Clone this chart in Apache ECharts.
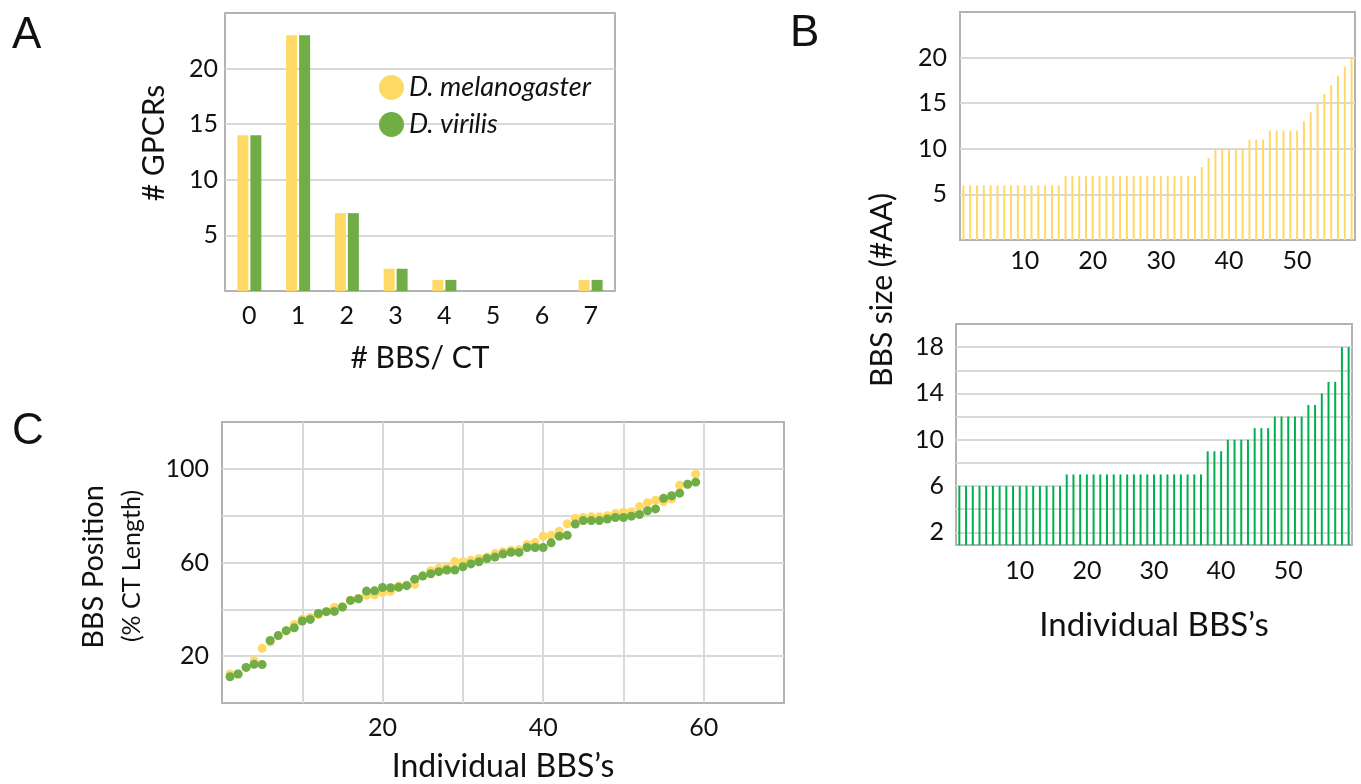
<!DOCTYPE html>
<html><head><meta charset="utf-8">
<script src="https://cdn.jsdelivr.net/npm/echarts@6/dist/echarts.min.js"></script>
<style>html,body{margin:0;padding:0;background:#fff}#c{width:1361px;height:784px}</style>
</head><body><div id="c"></div><script>
// ---- Panel A: number of BBS per CT ----
const countCategories = ['0','1','2','3','4','5','6','7'];
const countMel = [14, 23, 7, 2, 1, 0, 0, 1];
const countVir = [14, 23, 7, 2, 1, 0, 0, 1];
const countTicks = [5, 10, 15, 20];

// ---- Panel B: BBS size (#AA), sorted ----
const sizeMel = [6,6,6,6,6,6,6,6,6,6,6,6,6,6,6,
  7,7,7,7,7,7,7,7,7,7,7,7,7,7,7,7,7,7,7,7,
  8,9,10,10,10,10,10,11,11,11,12,12,12,12,12,
  13,14,15,16,17,18,19,20];
const sizeVir = [6,6,6,6,6,6,6,6,6,6,6,6,6,6,6,6,
  7,7,7,7,7,7,7,7,7,7,7,7,7,7,7,7,7,7,7,7,7,
  9,9,9,10,10,10,10,11,11,11,12,12,12,12,12,
  13,13,14,15,15,18,18];
const sizeTicksTop = [5, 10, 15, 20];
const sizeGridBottom = [2, 4, 6, 8, 10, 12, 14, 16, 18];
const sizeTicksBottom = [2, 6, 10, 14, 18];
const bbsTickLabels = [10, 20, 30, 40, 50];

// ---- Panel C: BBS position (% CT length), sorted ----
const posMel = [12.4,12.4,15.2,18.0,23.4,26.0,28.8,30.8,33.5,35.8,
  36.5,37.7,39.0,40.8,41.0,43.8,44.5,46.0,46.2,47.2,
  47.6,50.0,50.4,50.7,54.3,56.5,57.5,58.1,60.4,60.3,
  61.0,61.7,62.4,63.8,64.6,65.2,65.5,67.7,68.5,71.2,
  71.6,73.3,76.5,78.9,79.2,79.5,79.5,80.0,80.9,81.5,
  81.7,83.9,85.5,86.6,86.0,87.1,93.0,93.4,97.7];
const posVir = [11.2,12.4,15.2,16.5,16.4,26.7,28.8,30.9,32.1,35.0,
  35.7,38.2,39.0,39.1,41.0,43.8,44.5,47.8,47.9,49.3,
  49.2,49.4,50.1,52.9,54.2,55.2,56.1,56.8,56.8,58.2,
  59.4,60.3,61.7,62.3,63.6,64.4,64.3,66.4,66.4,66.4,
  68.4,71.2,71.6,76.4,77.9,77.9,77.9,78.6,79.2,79.2,
  79.8,80.5,82.1,82.9,87.4,88.5,89.6,93.4,94.3];
const posXTicks = [20, 40, 60];
const posYTicks = [20, 60, 100];

const YELLOW = '#FFD966', GREEN = '#70AD47', BRIGHTGREEN = '#00B050';
const FRAME = '#b3b3b3', GRIDC = '#d9d9d9', TXT = '#111';
const FONT = 'Lato, "Open Sans", sans-serif';

const catsTop = sizeMel.map((_, i) => String(i + 1));
const catsBot = sizeVir.map((_, i) => String(i + 1));
const labelFn = (idx) => bbsTickLabels.indexOf(idx + 1) >= 0;

const chart = echarts.init(document.getElementById('c'), null, {renderer: 'canvas'});
const gridStyle = {show: true, borderColor: FRAME, borderWidth: 2, backgroundColor: '#fff'};
const axLabel = {color: TXT, fontSize: 25, fontFamily: FONT};

chart.setOption({
  animation: false,
  textStyle: {fontFamily: FONT},
  grid: [
    Object.assign({left: 225, top: 13, width: 390, height: 278}, gridStyle),
    Object.assign({left: 960, top: 12, width: 395, height: 228}, gridStyle),
    Object.assign({left: 956, top: 324, width: 396, height: 221}, gridStyle),
    Object.assign({left: 222, top: 422, width: 562, height: 284}, gridStyle)
  ],
  legend: {
    data: ['D. melanogaster', 'D. virilis'],
    orient: 'vertical', left: 374, top: 69,
    icon: 'circle', itemWidth: 25, itemHeight: 25, itemGap: 10,
    textStyle: {fontSize: 27, fontStyle: 'italic', color: TXT, fontFamily: FONT}
  },
  xAxis: [
    {gridIndex: 0, type: 'category', data: countCategories,
      axisLine: {show: false}, axisTick: {show: false},
      axisLabel: Object.assign({margin: 12}, axLabel),
      name: '# BBS/ CT', nameLocation: 'middle', nameGap: 52,
      nameTextStyle: {fontSize: 30, color: TXT, fontFamily: FONT}},
    {gridIndex: 1, type: 'category', data: catsTop,
      axisLine: {show: false}, axisTick: {show: false},
      axisLabel: Object.assign({interval: labelFn, margin: 8}, axLabel)},
    {gridIndex: 2, type: 'category', data: catsBot,
      axisLine: {show: false}, axisTick: {show: false},
      axisLabel: Object.assign({interval: labelFn, margin: 13}, axLabel),
      name: "Individual BBS’s", nameLocation: 'middle', nameGap: 64,
      nameTextStyle: {fontSize: 33, color: TXT, fontFamily: FONT}},
    {gridIndex: 3, type: 'value', min: 0, max: 70, interval: 10,
      axisLine: {show: false}, axisTick: {show: false},
      splitLine: {show: true, showMinLine: false, showMaxLine: false, lineStyle: {color: GRIDC, width: 2}},
      axisLabel: Object.assign({margin: 12, formatter: v => posXTicks.indexOf(v) >= 0 ? String(v) : ''}, axLabel),
      name: "Individual BBS’s", nameLocation: 'middle', nameGap: 48,
      nameTextStyle: {fontSize: 32, color: TXT, fontFamily: FONT}}
  ],
  yAxis: [
    {gridIndex: 0, type: 'value', min: 0, max: 25, interval: 5,
      axisLine: {show: false}, axisTick: {show: false},
      splitLine: {show: true, showMinLine: false, showMaxLine: false, lineStyle: {color: GRIDC, width: 2}},
      axisLabel: Object.assign({margin: 7, formatter: v => countTicks.indexOf(v) >= 0 ? String(v) : ''}, axLabel)},
    {gridIndex: 1, type: 'value', min: 0, max: 25, interval: 5,
      axisLine: {show: false}, axisTick: {show: false},
      splitLine: {show: true, showMinLine: false, showMaxLine: false, lineStyle: {color: GRIDC, width: 2}},
      axisLabel: Object.assign({margin: 13, formatter: v => sizeTicksTop.indexOf(v) >= 0 ? String(v) : ''}, axLabel)},
    {gridIndex: 2, type: 'value', min: 0.9, max: 20,
      axisLine: {show: false},
      axisTick: {show: false, customValues: sizeGridBottom},
      splitLine: {show: true, lineStyle: {color: GRIDC, width: 2}},
      axisLabel: Object.assign({margin: 12, customValues: sizeTicksBottom}, axLabel)},
    {gridIndex: 3, type: 'value', min: 0, max: 120, interval: 20,
      axisLine: {show: false}, axisTick: {show: false},
      splitLine: {show: true, showMinLine: false, showMaxLine: false, lineStyle: {color: GRIDC, width: 2}},
      axisLabel: Object.assign({margin: 13, formatter: v => posYTicks.indexOf(v) >= 0 ? String(v) : ''}, axLabel)}
  ],
  series: [
    {name: 'D. melanogaster', type: 'bar', xAxisIndex: 0, yAxisIndex: 0, data: countMel,
      itemStyle: {color: YELLOW}, barWidth: 11, barGap: '18%'},
    {name: 'D. virilis', type: 'bar', xAxisIndex: 0, yAxisIndex: 0, data: countVir,
      itemStyle: {color: GREEN}, barWidth: 11, barGap: '18%'},
    {name: 'BBS size mel', type: 'bar', xAxisIndex: 1, yAxisIndex: 1, data: sizeMel,
      itemStyle: {color: YELLOW}, barWidth: 2},
    {name: 'BBS size vir', type: 'bar', xAxisIndex: 2, yAxisIndex: 2, data: sizeVir,
      itemStyle: {color: BRIGHTGREEN}, barWidth: 2},
    {name: 'D. melanogaster', type: 'scatter', xAxisIndex: 3, yAxisIndex: 3,
      data: posMel.map((v, i) => [i + 1, v]), symbolSize: 9, itemStyle: {color: YELLOW, opacity: 1}},
    {name: 'D. virilis', type: 'scatter', xAxisIndex: 3, yAxisIndex: 3,
      data: posVir.map((v, i) => [i + 1, v]), symbolSize: 9, itemStyle: {color: GREEN, opacity: 1}}
  ],
  graphic: [
    {type: 'text', left: 12, top: 14, style: {text: 'A', font: '44px "Liberation Sans", Arial, sans-serif', fill: TXT}},
    {type: 'text', left: 790, top: 12, style: {text: 'B', font: '44px "Liberation Sans", Arial, sans-serif', fill: TXT}},
    {type: 'text', left: 12, top: 410, style: {text: 'C', font: '44px "Liberation Sans", Arial, sans-serif', fill: TXT}},
    {type: 'text', x: 154, y: 143, rotation: Math.PI / 2,
      style: {text: '# GPCRs', font: '30px ' + FONT, fill: TXT, align: 'center', verticalAlign: 'middle'}},
    {type: 'text', x: 882, y: 290, rotation: Math.PI / 2,
      style: {text: 'BBS size (#AA)', font: '30px ' + FONT, fill: TXT, align: 'center', verticalAlign: 'middle'}},
    {type: 'text', x: 94, y: 567, rotation: Math.PI / 2,
      style: {text: 'BBS Position', font: '29px ' + FONT, fill: TXT, align: 'center', verticalAlign: 'middle'}},
    {type: 'text', x: 132, y: 566, rotation: Math.PI / 2,
      style: {text: '(% CT Length)', font: '25px ' + FONT, fill: TXT, align: 'center', verticalAlign: 'middle'}}
  ]
});
</script></body></html>
